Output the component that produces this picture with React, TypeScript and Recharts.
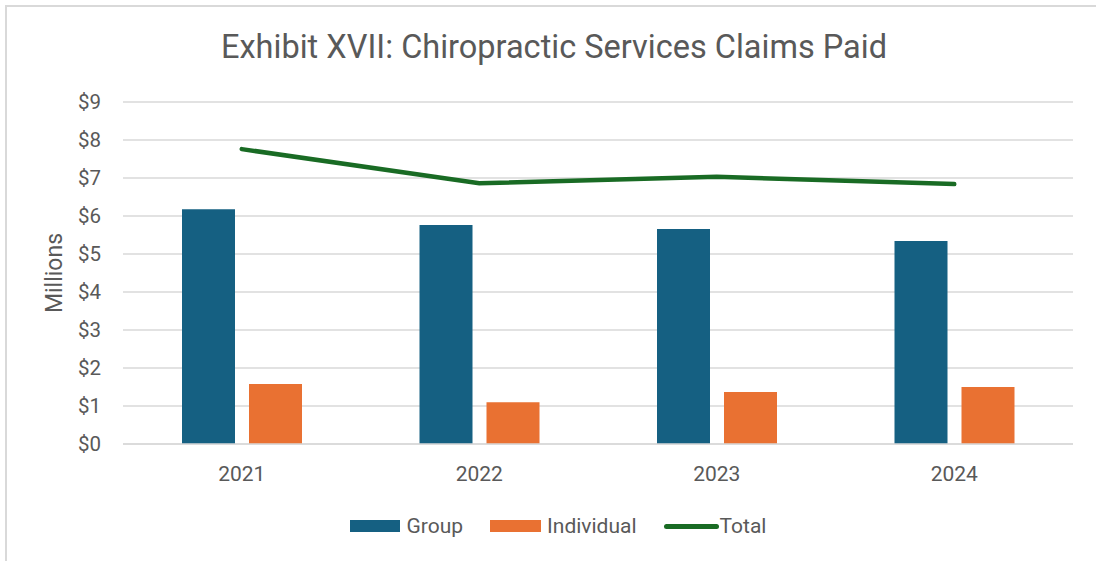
import { ComposedChart, Bar, Line, XAxis, YAxis, CartesianGrid, Legend } from "recharts";

const years = ["2021", "2022", "2023", "2024"];
const groupPaid = [6.18, 5.76, 5.66, 5.34];
const individualPaid = [1.58, 1.1, 1.37, 1.5];
const totalPaid = [7.76, 6.86, 7.03, 6.84];
const yTicks = [0, 1, 2, 3, 4, 5, 6, 7, 8, 9];

const data = years.map((year, i) => ({
  year,
  group: groupPaid[i],
  individual: individualPaid[i],
  total: totalPaid[i],
}));

const FONT = "Roboto, 'Noto Sans', sans-serif";
const TEXT = "#595959";
const GRID = "#d9d9d9";

function LegendContent() {
  const item = { display: "flex", alignItems: "center", marginRight: 27 } as const;
  return (
    <div style={{ display: "flex", justifyContent: "center", fontFamily: FONT, fontSize: 21, color: TEXT, paddingLeft: 20 }}>
      <div style={item}>
        <span style={{ width: 50, height: 12, background: "#156082", marginRight: 7 }} />
        Group
      </div>
      <div style={item}>
        <span style={{ width: 51, height: 12, background: "#E97132", marginRight: 6 }} />
        Individual
      </div>
      <div style={{ ...item, marginRight: 0 }}>
        <span style={{ width: 55, height: 5, borderRadius: 3, background: "#196B24", marginRight: 1 }} />
        Total
      </div>
    </div>
  );
}

export default function App() {
  return (
    <div style={{ position: "fixed", left: 0, top: 0, width: 1096, height: 561, background: "#fff", overflow: "hidden" }}>
      <div
        style={{
          position: "absolute",
          left: 5,
          top: 5,
          width: 1200,
          height: 600,
          borderLeft: `2px solid ${GRID}`,
          borderTop: `2px solid ${GRID}`,
        }}
      />
      <div
        style={{
          position: "absolute",
          left: 0,
          top: 27,
          width: 1108,
          textAlign: "center",
          fontFamily: FONT,
          fontSize: 32.5,
          color: TEXT,
          lineHeight: "40px",
        }}
      >
        Exhibit XVII: Chiropractic Services Claims Paid
      </div>
      <ComposedChart
        width={1096}
        height={561}
        data={data}
        margin={{ top: 102, right: 23, bottom: 0, left: 0 }}
        barGap={14}
      >
        <CartesianGrid vertical={false} stroke={GRID} strokeWidth={1.5} />
        <XAxis
          dataKey="year"
          height={117}
          axisLine={{ stroke: GRID, strokeWidth: 1.5 }}
          tickLine={false}
          tickMargin={16}
          tick={{ fill: TEXT, fontSize: 21, fontFamily: FONT }}
        />
        <YAxis
          width={123}
          domain={[0, 9]}
          ticks={yTicks}
          interval={0}
          axisLine={false}
          tickLine={false}
          tickMargin={16}
          tickFormatter={(v: number) => `$${v}`}
          tick={{ fill: TEXT, fontSize: 20.5, fontFamily: FONT }}
          label={{
            value: "Millions",
            angle: -90,
            position: "center",
            dx: -8,
            style: { fill: TEXT, fontSize: 23, fontFamily: FONT, textAnchor: "middle" },
          }}
        />
        <Legend
          verticalAlign="middle"
          align="center"
          layout="horizontal"
          wrapperStyle={{ top: 514, left: 0, width: 1096 }}
          content={() => <LegendContent />}
        />
        <Bar dataKey="group" name="Group" fill="#156082" barSize={53} isAnimationActive={false} />
        <Bar dataKey="individual" name="Individual" fill="#E97132" barSize={53} isAnimationActive={false} />
        <Line
          dataKey="total"
          name="Total"
          type="linear"
          stroke="#196B24"
          strokeWidth={4.5}
          strokeLinecap="round"
          dot={false}
          activeDot={false}
          isAnimationActive={false}
        />
      </ComposedChart>
    </div>
  );
}
